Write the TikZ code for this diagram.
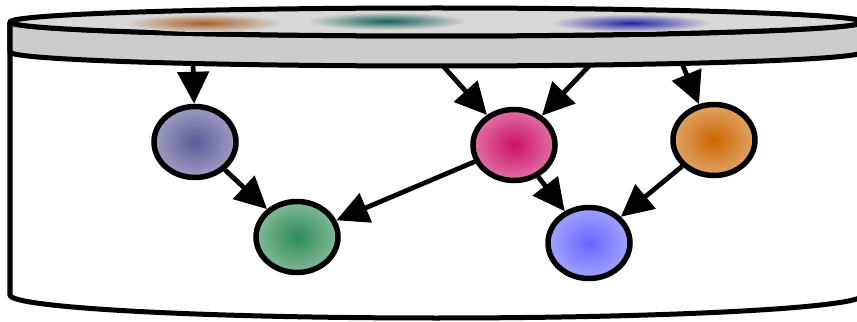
\documentclass[tikz,border=0pt]{standalone}
\usepackage{tikz}
\usetikzlibrary{shapes.geometric,arrows.meta}

\definecolor{topgray}{RGB}{216,216,216}
\definecolor{bandgray}{RGB}{204,204,204}
\definecolor{cpurple}{RGB}{92,92,153}
\definecolor{cgreen}{RGB}{46,139,87}
\definecolor{cpink}{RGB}{204,17,102}
\definecolor{corange}{RGB}{204,102,0}
\definecolor{cblue}{RGB}{102,102,255}
\definecolor{bbrown}{RGB}{165,95,40}
\definecolor{bteal}{RGB}{20,95,92}
\definecolor{bblue}{RGB}{30,30,160}

\begin{document}
\begin{tikzpicture}[
  var/.style={ellipse, draw, line width=0.11cm, minimum width=1.64cm, minimum height=1.42cm, inner sep=0pt, inner color=#1, outer color=#1!60!white},
  edge/.style={line width=0.095cm, -{Triangle[length=0.64cm,width=0.62cm]}},
  rim/.style={line width=0.1cm, line join=round}
]
\useasboundingbox (0,0) rectangle (17.14,-6.44);
% cylinder
\draw[rim, fill=white] (0.2,-0.44) -- (0.2,-5.9) arc (180:360:8.53 and 0.46) -- (17.26,-0.44);
\draw[rim, fill=bandgray] (0.2,-0.44) arc (180:360:8.53 and 0.28) -- (17.26,-1.04) arc (0:-180:8.53 and 0.28) -- cycle;
\draw[rim, fill=topgray] (8.73,-0.44) ellipse (8.53 and 0.28);
\shade[inner color=bbrown, outer color=topgray] (4.08,-0.46) ellipse (1.6 and 0.18);
\shade[inner color=bteal, outer color=topgray] (7.74,-0.42) ellipse (1.6 and 0.18);
\shade[inner color=bblue, outer color=topgray] (12.62,-0.46) ellipse (1.6 and 0.18);
\coordinate (s1) at (3.86,-1.27);
\coordinate (s2) at (8.86,-1.32);
\coordinate (s3) at (11.8,-1.3);
\coordinate (s4) at (13.64,-1.27);
% variables
\node[var=cpurple] (x1) at (3.9,-2.84) {};
\node[var=cgreen] (x2) at (5.94,-4.74) {};
\node[var=cpink] (x3) at (10.28,-2.9) {};
\node[var=corange] (x4) at (14.28,-2.8) {};
\node[var=cblue] (x5) at (11.78,-4.86) {};
\draw[edge] (s1) -- (x1);
\draw[edge] (s2) -- (x3);
\draw[edge] (s3) -- (x3);
\draw[edge] (s4) -- (x4);
\draw[edge] (x1) -- (x2);
\draw[edge] (x3) -- (x2);
\draw[edge] (x3) -- (x5);
\draw[edge] (x4) -- (x5);
\end{tikzpicture}
\end{document}
